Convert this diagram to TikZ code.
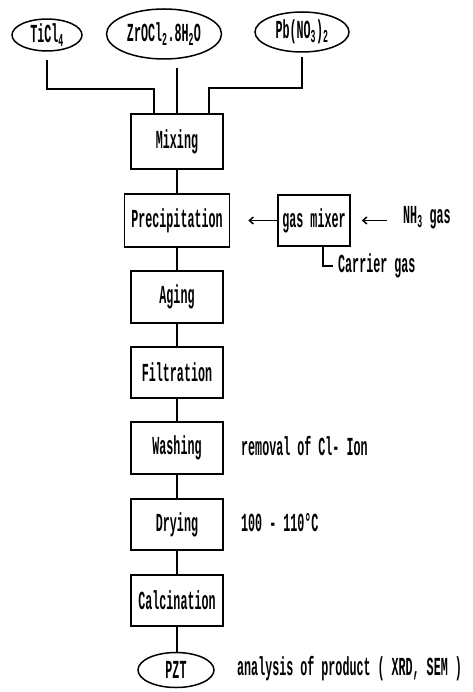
\documentclass[tikz,border=0pt]{standalone}
\usepackage{fontspec}
\setmainfont{Liberation Mono}[FakeStretch=0.45]
\usetikzlibrary{shapes.geometric,arrows.meta}
\newcommand\mysub[1]{\textsubscript{#1}}
\begin{document}
\begin{tikzpicture}[x=1pt,y=-1pt,
  every node/.style={font=\fontsize{26}{28}\selectfont\bfseries, inner sep=0pt},
  stepbox/.style={draw, line width=1.5pt, minimum width=92pt, minimum height=52pt},
  src/.style={draw, ellipse, line width=1.5pt},
  conn/.style={line width=1.5pt},
  arr/.style={conn, -{Straight Barb[length=4pt,width=7pt]}},
  note/.style={anchor=west}]
\useasboundingbox (0,0) rectangle (472,692);
% sources
\node[src, minimum width=70pt, minimum height=30pt] (ti) at (47,35) {TiCl\mysub{4}};
\node[src, minimum width=115pt, minimum height=50pt] (zr) at (164,34) {ZrOCl\mysub{2}.8H\mysub{2}O};
\node[src, minimum width=94pt, minimum height=40pt] (pb) at (302,32) {Pb(NO\mysub{3})\mysub{2}};
% steps
\node[stepbox, minimum height=55pt] (mix) at (177,141.5) {Mixing};
\node[stepbox, minimum width=105pt, minimum height=53pt] (prec) at (177,220.5) {Precipitation};
\node[stepbox] (age) at (177,297) {Aging};
\node[stepbox, minimum height=51pt] (filt) at (177,372.5) {Filtration};
\node[stepbox] (wash) at (177,448) {Washing};
\node[stepbox, minimum height=51pt] (dry) at (177,524.5) {Drying};
\node[stepbox, minimum height=51pt] (calc) at (177,600.5) {Calcination};
\node[src, minimum width=76pt, minimum height=35pt] (pzt) at (176,670) {PZT};
\node[stepbox, minimum width=72pt, minimum height=51pt] (gas) at (314,220.5) {gas mixer};
% side texts
\node[note] (nh3) at (403,218) {NH\mysub{3} gas};
\node[note] (carrier) at (338,266) {Carrier gas};
\node[note] (removal) at (241,446) {removal of Cl- Ion};
\node[note] (temp) at (241,523) {100 - 110°C};
\node[note] (anal) at (237,669) {analysis of product ( XRD, SEM )};
% feed lines
\coordinate (m1) at (154,89);
\coordinate (m3) at (209,88);
\draw[conn, shorten <=8pt] (ti.south) |- (m1) -- (mix.north -| m1);
\draw[conn, shorten <=8pt] (zr.south -| mix.north) -- (mix.north);
\draw[conn, shorten <=4pt] (pb.south) |- (m3) -- (mix.north -| m3);
% chain
\draw[conn] (mix) -- (prec);
\draw[conn] (prec) -- (age);
\draw[conn] (age) -- (filt);
\draw[conn] (filt) -- (wash);
\draw[conn] (wash) -- (dry);
\draw[conn] (dry) -- (calc);
\draw[conn] (calc.south) -- (pzt.north -| calc.south);
% gas
\draw[arr, shorten >=18pt] (gas.west) -- (prec.east);
\draw[arr, shorten <=16pt, shorten >=11pt] (nh3.west |- gas.east) -- (gas.east);
\draw[conn] ([xshift=9pt]gas.south) |- ([xshift=-5pt]carrier.west);
\end{tikzpicture}
\end{document}
